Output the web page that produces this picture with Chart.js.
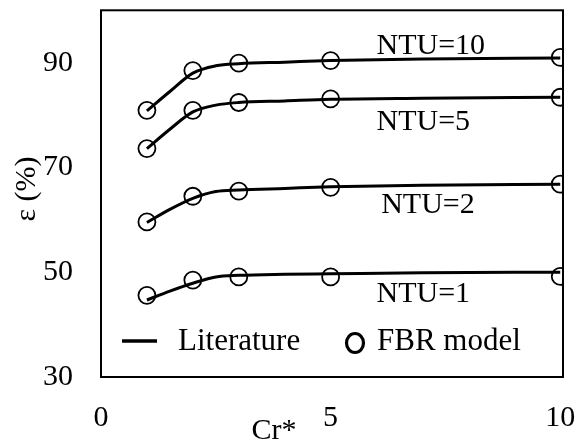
<!DOCTYPE html>
<html>
<head>
<meta charset="UTF-8">
<title>Effectiveness vs Cr*</title>
<style>
body { margin: 0; background: #fff; }
.chart-container { width: 576px; height: 445px; }
</style>
<script src="https://cdn.jsdelivr.net/npm/chart.js"></script>
</head>
<body>
	<div class="chart-container">
		<canvas id="eff-chart" width="576" height="445"></canvas>
	</div>

	<script>
		// Cr* values
		const litX = [1, 1.5, 2, 2.5, 3, 4, 5, 7, 10];
		const fbrX = [1, 2, 3, 5, 10];

		// literature curves (effectiveness, %)
		const lit1  = [44.7, 46.4, 47.9, 49.1, 49.4, 49.6, 49.7, 49.9, 50.0];
		const lit2  = [59.5, 62.0, 64.1, 65.4, 65.7, 66.0, 66.3, 66.6, 66.8];
		const lit5  = [73.6, 77.3, 80.6, 81.9, 82.4, 82.7, 83.0, 83.2, 83.4];
		const lit10 = [80.8, 84.5, 88.0, 89.4, 89.8, 90.1, 90.4, 90.7, 90.9];

		// FBR model points
		const fbr1  = [45.6, 48.5, 49.1, 49.1, 49.2];
		const fbr2  = [59.6, 64.5, 65.5, 66.2, 66.8];
		const fbr5  = [73.6, 80.9, 82.4, 83.1, 83.4];
		const fbr10 = [80.9, 88.5, 89.9, 90.4, 91.0];

		const xTicks = [0, 5, 10];
		const yTicks = [30, 50, 70, 90];

		const ntuNames = ['NTU=1', 'NTU=2', 'NTU=5', 'NTU=10'];

		const SERIF = '"Liberation Serif", "Times New Roman", serif';

		function pts(xs, ys) {
			return xs.map((x, i) => ({ x: x, y: ys[i] }));
		}

		function litSet(ys) {
			return {
				label : 'Literature',
				data : pts(litX, ys),
				showLine : true,
				cubicInterpolationMode : 'monotone',
				borderColor : '#000',
				borderWidth : 3,
				pointRadius : 0,
				pointHoverRadius : 0
			};
		}

		function fbrSet(ys) {
			return {
				label : 'FBR model',
				data : pts(fbrX, ys),
				showLine : false,
				pointStyle : 'circle',
				pointRadius : 8.5,
				pointBorderWidth : 1.8,
				pointBorderColor : '#000',
				pointBackgroundColor : 'rgba(0,0,0,0)'
			};
		}

		// no extra room for edge tick labels, the frame is fixed
		function noEdgePad(s) {
			s.paddingLeft = 0;
			s.paddingRight = 0;
			s.paddingTop = 0;
			s.paddingBottom = 0;
		}

		// where the NTU captions sit (data units, left edge / middle)
		const ntuPos = [
			{ x : 6.0, y : 45.8 },
			{ x : 6.1, y : 62.9 },
			{ x : 6.0, y : 78.6 },
			{ x : 6.0, y : 93.2 }
		];

		const decorations = {
			id : 'decorations',
			afterDraw(chart) {
				const c = chart.ctx;
				const a = chart.chartArea;
				const sx = chart.scales.x, sy = chart.scales.y;
				c.save();
				// plot frame
				c.strokeStyle = '#000';
				c.lineWidth = 2;
				c.strokeRect(a.left, a.top, a.right - a.left, a.bottom - a.top);

				c.fillStyle = '#000';
				c.font = '30px ' + SERIF;
				c.textBaseline = 'middle';
				c.textAlign = 'left';
				ntuNames.forEach((t, i) => {
					c.fillText(t, sx.getPixelForValue(ntuPos[i].x), sy.getPixelForValue(ntuPos[i].y));
				});

				// axis titles
				c.textAlign = 'center';
				c.fillText('Cr*', 274, 431);
				c.save();
				c.translate(27, 189);
				c.rotate(-Math.PI / 2);
				c.fillText('\u03b5 (%)', 0, 0);
				c.restore();

				// legend
				c.font = '31px ' + SERIF;
				c.textAlign = 'left';
				c.lineWidth = 3.5;
				c.beginPath();
				c.moveTo(122, 341);
				c.lineTo(157, 341);
				c.stroke();
				c.fillText('Literature', 178, 342);
				c.lineWidth = 3.2;
				c.beginPath();
				c.ellipse(355, 343, 8.5, 9.5, 0, 0, Math.PI * 2);
				c.stroke();
				c.fillText('FBR model', 377, 342);
				c.restore();
			}
		};

		const config = {
			type : 'scatter',
			data : {
				datasets : [
					litSet(lit1), litSet(lit2), litSet(lit5), litSet(lit10),
					fbrSet(fbr1), fbrSet(fbr2), fbrSet(fbr5), fbrSet(fbr10)
				]
			},
			options : {
				responsive : false,
				animation : false,
				devicePixelRatio : 1,
				layout : { padding : { top : 9, right : 13, left : 0, bottom : 0 } },
				plugins : {
					legend : { display : false },
					tooltip : { enabled : false }
				},
				scales : {
					x : {
						type : 'linear',
						min : 0,
						max : 10.06,
						grid : { display : false, drawTicks : false },
						border : { display : false },
						afterBuildTicks : s => { s.ticks = xTicks.map(v => ({ value : v })); },
						afterFit : s => { s.height = 68; noEdgePad(s); },
						ticks : {
							padding : 23,
							color : '#000',
							maxRotation : 0,
							font : { family : SERIF, size : 30 }
						}
					},
					y : {
						type : 'linear',
						min : 30,
						max : 100,
						grid : { display : false, drawTicks : false },
						border : { display : false },
						afterBuildTicks : s => { s.ticks = yTicks.map(v => ({ value : v })); },
						afterFit : s => { s.width = 101; noEdgePad(s); },
						ticks : {
							padding : 28,
							color : '#000',
							font : { family : SERIF, size : 30 }
						}
					}
				}
			},
			plugins : [ decorations ]
		};
		new Chart(document.getElementById('eff-chart'), config);
	</script>
</body>
</html>
